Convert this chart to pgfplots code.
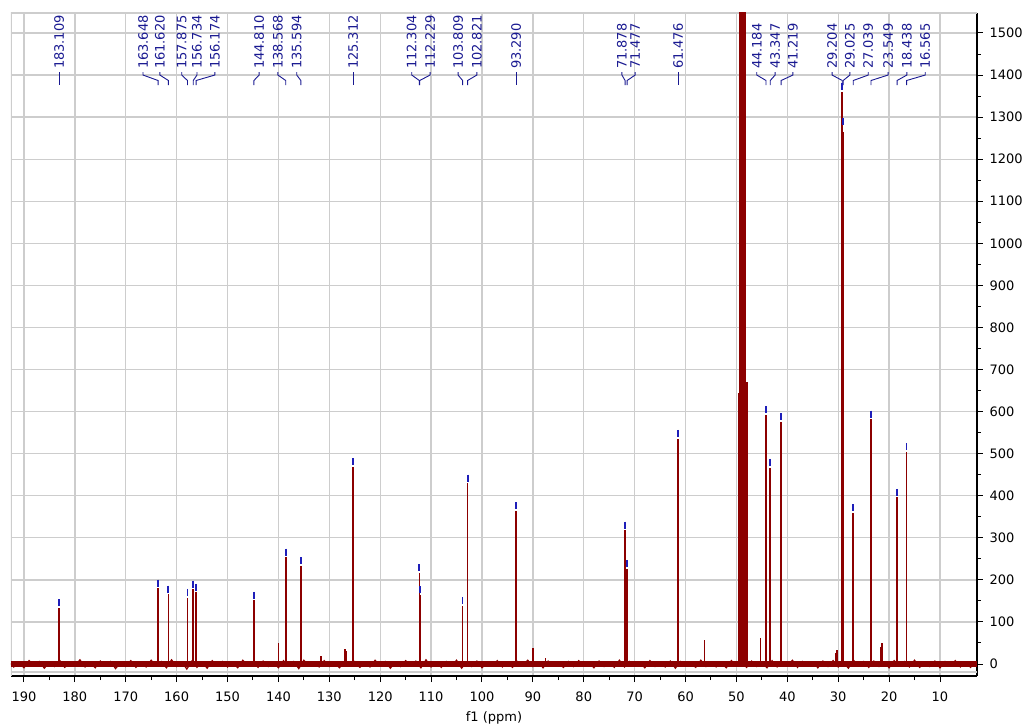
\documentclass[border=0pt]{standalone}
\usepackage{fontspec}
\setmainfont{DejaVu Sans}
\usepackage{pgfplots}
\pgfplotsset{compat=1.18}

\definecolor{spec}{RGB}{140,0,0}
\definecolor{lblblue}{RGB}{25,25,145}
\definecolor{mkblue}{RGB}{30,30,185}
\definecolor{gridgray}{RGB}{205,205,205}

\tikzset{
  lbl/.style={lblblue, line width=0.9bp},
  lbltext/.style={rotate=90, anchor=west, inner sep=0pt, text=lblblue,
                  font=\fontsize{13bp}{15bp}\selectfont},
}

\begin{document}
\fontsize{13bp}{15bp}\selectfont
\begin{tikzpicture}
\begin{axis}[
  scale only axis, width=966bp, height=663bp,
  x dir=reverse,
  xmin=2.73, xmax=192.55, ymin=-28.5, ymax=1547.5,
  axis x line*=bottom, axis y line*=right,
  axis line style={black, line width=1.2bp, -},
  xtick={10,20,...,190}, minor x tick num=1,
  ytick={0,100,...,1500}, minor y tick num=1,
  tick align=outside, major tick length=6bp, minor tick length=4bp,
  tick style={black, line width=1bp},
  xmajorgrids, ymajorgrids,
  major grid style={gridgray, line width=1.3bp},
  ticklabel style={font=\fontsize{13bp}{15bp}\selectfont},
  xticklabel style={yshift=-5bp},
  yticklabel style={xshift=2bp},
  /pgf/number format/assume math mode=true,
  /pgf/number format/1000 sep={},
  xlabel={f1 (ppm)},
  xlabel style={font=\fontsize{13bp}{15bp}\selectfont, inner sep=0pt, yshift=-6bp},
]

% frame (gray) and extra bottom grid line
\draw[gridgray, line width=1.3bp] (axis cs:192.55,-28.5) -- (axis cs:192.55,1547.5) -- (axis cs:2.73,1547.5);
\draw[gridgray, line width=1.3bp] (axis cs:192.55,-19) -- (axis cs:2.73,-19);

% baseline noise
\addplot[spec, line width=5.5bp] coordinates {(192.55,0) (2.73,0)};
\addplot[spec, line width=1.2bp] coordinates {
(193,5) (192,-7) (191,3) (190,-9) (189,8) (188,-4) (187,6) (186,-10) (185,4) (184,-6)
(183,9) (182,-8) (181,2) (180,-5) (179,10) (178,-7) (177,5) (176,-9) (175,7) (174,-3)
(173,6) (172,-11) (171,4) (170,-6) (169,8) (168,-8) (167,3) (166,-7) (165,9) (164,-5)
(163,6) (162,-9) (161,10) (160,-6) (159,5) (158,-12) (157,7) (156,-8) (155,4) (154,-10)
(153,8) (152,-5) (151,6) (150,-7) (149,3) (148,-9) (147,9) (146,-4) (145,5) (144,-8)
(143,7) (142,-6) (141,4) (140,-9) (139,8) (138,-5) (137,6) (136,-11) (135,9) (134,-4)
(133,5) (132,-7) (131,8) (130,-6) (129,4) (128,-9) (127,7) (126,-5) (125,6) (124,-8)
(123,3) (122,-7) (121,9) (120,-5) (119,6) (118,-10) (117,5) (116,-6) (115,8) (114,-4)
(113,7) (112,-9) (111,10) (110,-7) (109,4) (108,-8) (107,6) (106,-5) (105,9) (104,-10)
(103,5) (102,-6) (101,7) (100,-9) (99,4) (98,-5) (97,8) (96,-7) (95,3) (94,-8)
(93,6) (92,-4) (91,9) (90,-6) (89,5) (88,-9) (87,7) (86,-5) (85,4) (84,-8)
(83,6) (82,-6) (81,8) (80,-4) (79,5) (78,-9) (77,7) (76,-6) (75,3) (74,-8)
(73,9) (72,-7) (71,6) (70,-5) (69,4) (68,-9) (67,8) (66,-6) (65,5) (64,-7)
(63,7) (62,-10) (61,6) (60,-5) (59,4) (58,-8) (57,9) (56,-6) (55,5) (54,-7)
(53,3) (52,-9) (51,8) (50,-4) (49,6) (48,-8) (47,7) (46,-6) (45,5) (44,-9)
(43,8) (42,-7) (41,4) (40,-5) (39,9) (38,-8) (37,6) (36,-4) (35,5) (34,-9)
(33,7) (32,-6) (31,8) (30,-7) (29,4) (28,-10) (27,9) (26,-5) (25,6) (24,-8)
(23,7) (22,-6) (21,5) (20,-9) (19,8) (18,-4) (17,6) (16,-7) (15,9) (14,-8)
(13,5) (12,-6) (11,7) (10,-9) (9,6) (8,-5) (7,8) (6,-7) (5,4) (4,-8) (3,6)
};

% small unlabelled peaks
\addplot[ycomb, spec, line width=1.5bp] coordinates {
(140.0,50) (131.6,19) (126.9,36) (126.6,30) (90.0,38) (87.5,15) (56.3,57)
(45.3,62) (30.2,33) (30.5,25) (21.4,49) (21.7,40)
};

% solvent (CD3OD) multiplet
\addplot[ycomb, spec, line width=1.8bp] coordinates {
(49.60,644) (49.40,5000) (49.20,5000) (49.00,5000) (48.80,5000)
(48.60,5000) (48.40,5000) (48.20,5000) (48.00,670)
};

% labelled peaks
\addplot[ycomb, spec, line width=1.6bp] coordinates {
(183.109,134) (163.648,180) (161.620,166) (157.875,158) (156.734,178)
(156.174,170) (144.810,151) (138.568,254) (135.594,233) (125.312,469)
(112.304,217) (112.229,164) (103.809,138) (102.821,430) (93.290,364)
(71.878,318) (71.477,226) (61.476,536) (44.184,592) (43.347,467)
(41.219,576) (29.204,1360) (29.025,1265) (27.039,360) (23.549,582)
(18.438,396) (16.565,505)
};

% peak-pick markers
\addplot[only marks, mark=|, mark size=3.5bp, mkblue, mark options={line width=1.8bp}] coordinates {
(183.109,146) (163.648,192) (161.620,178) (157.875,170) (156.734,190)
(156.174,182) (144.810,163) (138.568,266) (135.594,245) (125.312,481)
(112.304,229) (112.229,176) (103.809,150) (102.821,442) (93.290,376)
(71.878,330) (71.477,238) (61.476,548) (44.184,604) (43.347,479)
(41.219,588) (29.204,1372) (29.025,1290) (27.039,372) (23.549,594)
(18.438,408) (16.565,517)
};

% peak labels with connectors
\foreach \L/\P in {183.109/183.109, 166.6/163.648, 163.3/161.620, 159.0/157.875,
  156.0/156.734, 152.5/156.174, 143.8/144.810, 140.1/138.568, 136.4/135.594,
  125.312/125.312, 113.8/112.304, 110.2/112.229, 104.7/103.809, 101.0/102.821,
  93.290/93.290, 72.5/71.878, 69.9/71.477, 61.476/61.476, 46.0/44.184,
  42.4/43.347, 38.9/41.219, 31.2/29.204, 27.7/29.025, 24.1/27.039,
  20.2/23.549, 16.5/18.438, 12.9/16.565} {
  \edef\temp{\noexpand\draw[lbl] (axis cs:\L,1407) -- (axis cs:\L,1400)
      -- (axis cs:\P,1387) -- (axis cs:\P,1376);
    \noexpand\node[lbltext] at (axis cs:\L,1414) {\P};}
  \temp
}

\coordinate (SW) at (axis cs:192.55,-28.5);
\coordinate (NE) at (axis cs:2.73,1547.5);
\end{axis}
\pgfresetboundingbox
\path ([shift={(-11bp,-48bp)}]SW) rectangle ([shift={(49bp,13bp)}]NE);
\end{tikzpicture}
\end{document}
